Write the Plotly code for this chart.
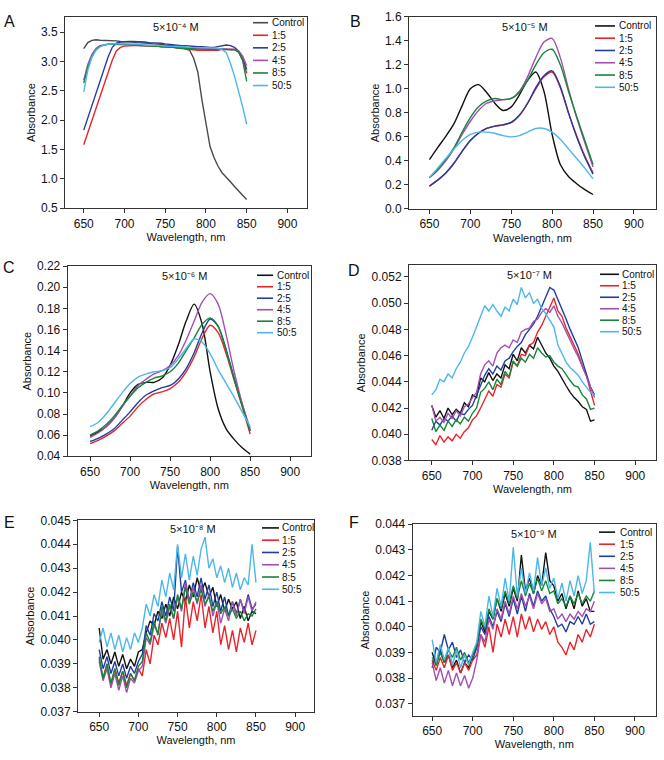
import plotly.graph_objects as go
from plotly.subplots import make_subplots

W, H = 664, 760
FONT = "Liberation Sans, Arial, Helvetica, sans-serif"

SERIES = ["Control", "1:5", "2:5", "4:5", "8:5", "50:5"]
COLORS = ["#111111", "#e8242b", "#1f3f9f", "#a24fb0", "#17853a", "#4db6ea"]

WL_5 = list(range(650, 851, 5))
WL_10 = list(range(650, 851, 10))

# ---- A: 5x10^-4 M (5 nm step) ----
A_CONTROL = [3.22, 3.32, 3.36, 3.37, 3.36, 3.36, 3.35, 3.35, 3.35, 3.34, 3.34, 3.33, 3.33, 3.32, 3.32, 3.31, 3.31,
             3.30, 3.30, 3.29, 3.28, 3.28, 3.27, 3.26, 3.24, 3.22, 3.19, 3.05, 2.82, 2.35, 1.92, 1.55, 1.36, 1.21,
             1.10, 1.03, 0.95, 0.87, 0.79, 0.72, 0.65]
A_1_5 = [1.58, 1.78, 1.99, 2.19, 2.40, 2.60, 2.81, 3.02, 3.18, 3.24, 3.26, 3.27, 3.27, 3.27, 3.27, 3.27, 3.26, 3.26,
         3.26, 3.25, 3.25, 3.24, 3.24, 3.23, 3.22, 3.21, 3.21, 3.20, 3.19, 3.19, 3.19, 3.19, 3.19, 3.19, 3.21, 3.21,
         3.21, 3.20, 3.16, 3.02, 2.80]
A_2_5 = [1.83, 2.04, 2.25, 2.46, 2.67, 2.88, 3.08, 3.24, 3.31, 3.33, 3.34, 3.34, 3.34, 3.34, 3.33, 3.33, 3.32, 3.32,
         3.31, 3.31, 3.30, 3.29, 3.29, 3.28, 3.27, 3.27, 3.26, 3.26, 3.25, 3.25, 3.24, 3.24, 3.24, 3.25, 3.27, 3.28,
         3.27, 3.24, 3.18, 3.08, 2.86]
A_4_5 = [2.68, 2.95, 3.12, 3.22, 3.27, 3.29, 3.30, 3.30, 3.30, 3.30, 3.30, 3.29, 3.29, 3.29, 3.28, 3.28, 3.28, 3.27,
         3.27, 3.26, 3.26, 3.25, 3.25, 3.24, 3.24, 3.23, 3.23, 3.22, 3.22, 3.22, 3.22, 3.22, 3.22, 3.22, 3.22, 3.22,
         3.22, 3.21, 3.18, 3.09, 2.93]
A_8_5 = [2.63, 2.90, 3.08, 3.20, 3.26, 3.28, 3.29, 3.29, 3.29, 3.29, 3.29, 3.28, 3.28, 3.28, 3.27, 3.27, 3.27, 3.26,
         3.26, 3.25, 3.25, 3.24, 3.24, 3.23, 3.23, 3.22, 3.22, 3.22, 3.21, 3.21, 3.21, 3.21, 3.21, 3.21, 3.21, 3.21,
         3.21, 3.20, 3.16, 3.02, 2.66]
A_50_5 = [2.48, 2.85, 3.07, 3.19, 3.25, 3.28, 3.29, 3.30, 3.30, 3.30, 3.30, 3.30, 3.29, 3.29, 3.29, 3.28, 3.28, 3.28,
          3.27, 3.27, 3.26, 3.26, 3.26, 3.25, 3.25, 3.25, 3.24, 3.24, 3.24, 3.24, 3.24, 3.24, 3.23, 3.22, 3.20, 3.15,
          2.97, 2.75, 2.51, 2.23, 1.93]

# ---- B: 5x10^-5 M (10 nm step) ----
B_CONTROL = [0.41, 0.51, 0.605, 0.71, 0.86, 1.00, 1.035, 0.97, 0.88, 0.82, 0.85, 0.95, 1.07, 1.14, 0.98, 0.62, 0.37,
             0.27, 0.21, 0.16, 0.12]
B_1_5 = [0.19, 0.24, 0.30, 0.38, 0.48, 0.57, 0.63, 0.67, 0.69, 0.70, 0.72, 0.78, 0.88, 1.00, 1.10, 1.14, 1.01, 0.80,
         0.61, 0.44, 0.30]
B_2_5 = [0.19, 0.24, 0.30, 0.38, 0.48, 0.57, 0.63, 0.67, 0.69, 0.70, 0.72, 0.78, 0.88, 1.01, 1.11, 1.15, 1.02, 0.80,
         0.60, 0.43, 0.29]
B_4_5 = [0.26, 0.32, 0.40, 0.50, 0.62, 0.73, 0.82, 0.88, 0.90, 0.91, 0.92, 0.98, 1.10, 1.26, 1.39, 1.42, 1.26, 1.00,
         0.76, 0.55, 0.35]
B_8_5 = [0.26, 0.33, 0.41, 0.51, 0.64, 0.76, 0.85, 0.90, 0.92, 0.91, 0.92, 0.97, 1.07, 1.20, 1.30, 1.33, 1.20, 0.98,
         0.77, 0.57, 0.37]
B_50_5 = [0.26, 0.34, 0.42, 0.50, 0.57, 0.62, 0.64, 0.64, 0.63, 0.61, 0.60, 0.61, 0.64, 0.67, 0.67, 0.64, 0.58, 0.50,
          0.42, 0.34, 0.25]

# ---- C: 5x10^-6 M (10 nm step) ----
C_CONTROL = [0.059, 0.063, 0.068, 0.076, 0.087, 0.100, 0.108, 0.110, 0.110, 0.114, 0.126, 0.145, 0.168, 0.184, 0.165,
             0.120, 0.085, 0.066, 0.056, 0.048, 0.042]
C_1_5 = [0.052, 0.055, 0.059, 0.064, 0.071, 0.078, 0.087, 0.094, 0.099, 0.101, 0.104, 0.110, 0.120, 0.134, 0.152,
         0.164, 0.157, 0.137, 0.112, 0.087, 0.061]
C_2_5 = [0.054, 0.057, 0.061, 0.066, 0.074, 0.082, 0.091, 0.098, 0.102, 0.105, 0.107, 0.113, 0.123, 0.138, 0.157,
         0.170, 0.163, 0.141, 0.114, 0.089, 0.064]
C_4_5 = [0.058, 0.062, 0.068, 0.076, 0.087, 0.097, 0.107, 0.113, 0.118, 0.121, 0.126, 0.135, 0.150, 0.168, 0.186,
         0.194, 0.184, 0.155, 0.120, 0.090, 0.066]
C_8_5 = [0.060, 0.064, 0.070, 0.078, 0.088, 0.097, 0.105, 0.110, 0.114, 0.116, 0.120, 0.128, 0.140, 0.152, 0.165,
         0.171, 0.163, 0.140, 0.113, 0.088, 0.064]
C_50_5 = [0.068, 0.072, 0.080, 0.090, 0.100, 0.109, 0.115, 0.118, 0.120, 0.121, 0.124, 0.132, 0.142, 0.151, 0.148,
          0.137, 0.122, 0.109, 0.096, 0.082, 0.068]

# ---- D: 5x10^-7 M (5 nm step) ----
D_CONTROL = [0.0422, 0.0413, 0.0418, 0.0412, 0.0420, 0.0415, 0.0419, 0.0416, 0.0424, 0.0421, 0.0430, 0.0428, 0.0443,
             0.0440, 0.0447, 0.0441, 0.0446, 0.0443, 0.0453, 0.0450, 0.0461, 0.0456, 0.0466, 0.0462, 0.0468, 0.0465,
             0.0474, 0.0468, 0.0462, 0.0458, 0.0452, 0.0448, 0.0442, 0.0437, 0.0432, 0.0428, 0.0425, 0.0421, 0.0419,
             0.0410, 0.0411]
D_1_5 = [0.0396, 0.0392, 0.0399, 0.0394, 0.0398, 0.0395, 0.0400, 0.0397, 0.0402, 0.0405, 0.0411, 0.0414, 0.0420,
         0.0426, 0.0433, 0.0429, 0.0438, 0.0436, 0.0446, 0.0443, 0.0455, 0.0452, 0.0461, 0.0460, 0.0468, 0.0470,
         0.0478, 0.0483, 0.0490, 0.0496, 0.0504, 0.0494, 0.0490, 0.0481, 0.0474, 0.0467, 0.0461, 0.0452, 0.0445,
         0.0433, 0.0422]
D_2_5 = [0.0403, 0.0410, 0.0407, 0.0412, 0.0410, 0.0414, 0.0410, 0.0416, 0.0415, 0.0419, 0.0422, 0.0430, 0.0437,
         0.0445, 0.0450, 0.0446, 0.0452, 0.0449, 0.0456, 0.0458, 0.0463, 0.0467, 0.0470, 0.0476, 0.0480, 0.0484,
         0.0490, 0.0497, 0.0505, 0.0512, 0.0510, 0.0503, 0.0495, 0.0488, 0.0480, 0.0473, 0.0466, 0.0456, 0.0446,
         0.0436, 0.0430]
D_4_5 = [0.0422, 0.0410, 0.0413, 0.0409, 0.0416, 0.0412, 0.0418, 0.0414, 0.0421, 0.0423, 0.0428, 0.0432, 0.0446,
         0.0453, 0.0456, 0.0452, 0.0462, 0.0466, 0.0468, 0.0466, 0.0472, 0.0470, 0.0478, 0.0480, 0.0481, 0.0486,
         0.0488, 0.0493, 0.0496, 0.0493, 0.0498, 0.0490, 0.0485, 0.0478, 0.0472, 0.0465, 0.0459, 0.0452, 0.0444,
         0.0436, 0.0428]
D_8_5 = [0.0412, 0.0402, 0.0407, 0.0403, 0.0410, 0.0406, 0.0411, 0.0408, 0.0413, 0.0410, 0.0416, 0.0420, 0.0432,
         0.0435, 0.0440, 0.0434, 0.0442, 0.0438, 0.0448, 0.0444, 0.0456, 0.0452, 0.0458, 0.0455, 0.0461, 0.0458,
         0.0466, 0.0462, 0.0459, 0.0460, 0.0455, 0.0452, 0.0450, 0.0445, 0.0441, 0.0437, 0.0436, 0.0430, 0.0427,
         0.0419, 0.0420]
D_50_5 = [0.0430, 0.0434, 0.0442, 0.0440, 0.0446, 0.0443, 0.0450, 0.0455, 0.0462, 0.0467, 0.0474, 0.0482, 0.0490,
          0.0498, 0.0494, 0.0499, 0.0494, 0.0490, 0.0497, 0.0494, 0.0503, 0.0499, 0.0512, 0.0504, 0.0508, 0.0500,
          0.0503, 0.0496, 0.0492, 0.0487, 0.0482, 0.0468, 0.0461, 0.0455, 0.0451, 0.0448, 0.0445, 0.0440, 0.0436,
          0.0432, 0.0430]

# ---- E: 5x10^-8 M (5 nm step) ----
E_CONTROL = [0.0405, 0.0392, 0.0396, 0.0390, 0.0395, 0.0389, 0.0394, 0.0388, 0.0392, 0.0389, 0.0395, 0.0396, 0.0403,
             0.0408, 0.0406, 0.0412, 0.0409, 0.0415, 0.0410, 0.0418, 0.0413, 0.0420, 0.0416, 0.0423, 0.0418, 0.0426,
             0.0420, 0.0424, 0.0418, 0.0422, 0.0414, 0.0419, 0.0412, 0.0417, 0.0413, 0.0416, 0.0409, 0.0414, 0.0408,
             0.0412, 0.0411]
E_1_5 = [0.0392, 0.0384, 0.0390, 0.0381, 0.0388, 0.0382, 0.0387, 0.0381, 0.0386, 0.0383, 0.0388, 0.0385, 0.0396,
         0.0390, 0.0402, 0.0398, 0.0407, 0.0401, 0.0409, 0.0400, 0.0412, 0.0397, 0.0418, 0.0405, 0.0416, 0.0408,
         0.0419, 0.0405, 0.0414, 0.0403, 0.0412, 0.0398, 0.0406, 0.0396, 0.0404, 0.0395, 0.0405, 0.0399, 0.0407,
         0.0398, 0.0404]
E_2_5 = [0.0396, 0.0388, 0.0393, 0.0386, 0.0391, 0.0385, 0.0390, 0.0384, 0.0389, 0.0386, 0.0391, 0.0394, 0.0406,
         0.0402, 0.0411, 0.0408, 0.0416, 0.0410, 0.0418, 0.0412, 0.0439, 0.0420, 0.0425, 0.0416, 0.0424, 0.0418,
         0.0426, 0.0417, 0.0423, 0.0414, 0.0420, 0.0412, 0.0418, 0.0410, 0.0416, 0.0411, 0.0417, 0.0412, 0.0419,
         0.0413, 0.0415]
E_4_5 = [0.0391, 0.0383, 0.0388, 0.0380, 0.0386, 0.0379, 0.0385, 0.0378, 0.0384, 0.0382, 0.0387, 0.0389, 0.0401,
         0.0398, 0.0406, 0.0403, 0.0412, 0.0407, 0.0414, 0.0409, 0.0418, 0.0412, 0.0424, 0.0416, 0.0422, 0.0415,
         0.0423, 0.0414, 0.0419, 0.0410, 0.0416, 0.0407, 0.0413, 0.0408, 0.0416, 0.0410, 0.0417, 0.0411, 0.0418,
         0.0412, 0.0416]
E_8_5 = [0.0393, 0.0384, 0.0390, 0.0382, 0.0388, 0.0381, 0.0387, 0.0380, 0.0386, 0.0383, 0.0389, 0.0391, 0.0403,
         0.0399, 0.0408, 0.0402, 0.0414, 0.0408, 0.0415, 0.0409, 0.0419, 0.0413, 0.0422, 0.0415, 0.0420, 0.0416,
         0.0421, 0.0415, 0.0418, 0.0412, 0.0416, 0.0411, 0.0414, 0.0410, 0.0413, 0.0409, 0.0412, 0.0408, 0.0411,
         0.0410, 0.0413]
E_50_5 = [0.0399, 0.0405, 0.0397, 0.0403, 0.0396, 0.0402, 0.0395, 0.0401, 0.0396, 0.0403, 0.0399, 0.0405, 0.0415,
          0.0410, 0.0419, 0.0414, 0.0425, 0.0418, 0.0428, 0.0421, 0.0440, 0.0426, 0.0436, 0.0425, 0.0435, 0.0427,
          0.0438, 0.0443, 0.0430, 0.0434, 0.0426, 0.0431, 0.0424, 0.0430, 0.0422, 0.0428, 0.0421, 0.0426, 0.0423,
          0.0440, 0.0424]

# ---- F: 5x10^-9 M (5 nm step) ----
F_CONTROL = [0.0390, 0.0385, 0.0391, 0.0386, 0.0389, 0.0384, 0.0387, 0.0382, 0.0386, 0.0384, 0.0389, 0.0392, 0.0402,
             0.0398, 0.0406, 0.0403, 0.0411, 0.0406, 0.0413, 0.0408, 0.0415, 0.0410, 0.0428, 0.0414, 0.0419, 0.0413,
             0.0420, 0.0416, 0.0429, 0.0418, 0.0416, 0.0410, 0.0413, 0.0407, 0.0412, 0.0407, 0.0414, 0.0408, 0.0411,
             0.0406, 0.0406]
F_1_5 = [0.0387, 0.0383, 0.0388, 0.0384, 0.0389, 0.0383, 0.0386, 0.0382, 0.0386, 0.0383, 0.0387, 0.0389, 0.0397,
         0.0392, 0.0400, 0.0390, 0.0401, 0.0396, 0.0403, 0.0397, 0.0404, 0.0396, 0.0405, 0.0399, 0.0404, 0.0398,
         0.0403, 0.0399, 0.0402, 0.0397, 0.0400, 0.0394, 0.0392, 0.0389, 0.0394, 0.0391, 0.0397, 0.0394, 0.0399,
         0.0396, 0.0401]
F_2_5 = [0.0384, 0.0392, 0.0390, 0.0397, 0.0391, 0.0394, 0.0388, 0.0391, 0.0386, 0.0389, 0.0387, 0.0392, 0.0400,
         0.0397, 0.0404, 0.0400, 0.0406, 0.0402, 0.0409, 0.0404, 0.0411, 0.0405, 0.0412, 0.0406, 0.0413, 0.0408,
         0.0414, 0.0410, 0.0412, 0.0407, 0.0404, 0.0400, 0.0401, 0.0398, 0.0402, 0.0401, 0.0404, 0.0401, 0.0405,
         0.0401, 0.0402]
F_4_5 = [0.0386, 0.0379, 0.0384, 0.0378, 0.0383, 0.0377, 0.0382, 0.0377, 0.0381, 0.0376, 0.0380, 0.0387, 0.0397,
         0.0394, 0.0403, 0.0399, 0.0407, 0.0403, 0.0410, 0.0405, 0.0412, 0.0407, 0.0413, 0.0408, 0.0412, 0.0407,
         0.0413, 0.0409, 0.0411, 0.0406, 0.0407, 0.0403, 0.0405, 0.0402, 0.0405, 0.0403, 0.0406, 0.0404, 0.0407,
         0.0406, 0.0410]
F_8_5 = [0.0388, 0.0385, 0.0390, 0.0386, 0.0391, 0.0388, 0.0392, 0.0387, 0.0390, 0.0386, 0.0389, 0.0393, 0.0403,
         0.0399, 0.0407, 0.0403, 0.0411, 0.0407, 0.0414, 0.0409, 0.0416, 0.0411, 0.0418, 0.0412, 0.0417, 0.0413,
         0.0419, 0.0414, 0.0418, 0.0413, 0.0414, 0.0409, 0.0411, 0.0408, 0.0412, 0.0409, 0.0413, 0.0409, 0.0412,
         0.0410, 0.0414]
F_50_5 = [0.0395, 0.0386, 0.0393, 0.0387, 0.0392, 0.0385, 0.0391, 0.0384, 0.0389, 0.0385, 0.0390, 0.0394, 0.0406,
          0.0400, 0.0412, 0.0404, 0.0415, 0.0408, 0.0419, 0.0410, 0.0431, 0.0412, 0.0423, 0.0413, 0.0421, 0.0414,
          0.0427, 0.0416, 0.0423, 0.0415, 0.0419, 0.0411, 0.0417, 0.0410, 0.0418, 0.0412, 0.0420, 0.0413, 0.0418,
          0.0433, 0.0413]

PANELS = [
    dict(letter="A", conc="5×10⁻⁴ M", wl=WL_5, shape="linear",
         ys=[A_CONTROL, A_1_5, A_2_5, A_4_5, A_8_5, A_50_5]),
    dict(letter="B", conc="5×10⁻⁵ M", wl=WL_10, shape="spline",
         ys=[B_CONTROL, B_1_5, B_2_5, B_4_5, B_8_5, B_50_5]),
    dict(letter="C", conc="5×10⁻⁶ M", wl=WL_10, shape="spline",
         ys=[C_CONTROL, C_1_5, C_2_5, C_4_5, C_8_5, C_50_5]),
    dict(letter="D", conc="5×10⁻⁷ M", wl=WL_5, shape="linear",
         ys=[D_CONTROL, D_1_5, D_2_5, D_4_5, D_8_5, D_50_5]),
    dict(letter="E", conc="5×10⁻⁸ M", wl=WL_5, shape="linear",
         ys=[E_CONTROL, E_1_5, E_2_5, E_4_5, E_8_5, E_50_5]),
    dict(letter="F", conc="5×10⁻⁹ M", wl=WL_5, shape="linear",
         ys=[F_CONTROL, F_1_5, F_2_5, F_4_5, F_8_5, F_50_5]),
]

# layout per panel, in pixels: plot box (left, top, right, bottom), axis ranges,
# legend (line x0, line x1, text x, first row y, row step), letter and label positions
STYLE = [
    dict(box=(65, 10, 307, 205), xr=[627, 924], yr=[0.5, 3.76], dt=0.5, fmt=".1f",
         leg=(253, 268, 270, 16, 12.8), let=(9, 15), lab=(176, 20)),
    dict(box=(409, 10, 656, 205.7), xr=[625, 927], yr=[0, 1.6], dt=0.2, fmt=".1f",
         leg=(595, 615, 617, 19.3, 12.5), let=(355, 15), lab=(525, 20)),
    dict(box=(67.7, 264, 311, 457.7), xr=[622, 926], yr=[0.04, 0.22], dt=0.02, fmt=".2f",
         leg=(257, 273, 275, 273.3, 11.7), let=(9, 265), lab=(185, 274)),
    dict(box=(409, 263, 656, 462), xr=[622, 925.5], yr=[0.038, 0.0529], dt=0.002, fmt=".3f",
         leg=(600, 619, 620, 272.3, 11.7), let=(354, 268), lab=(529, 273)),
    dict(box=(78, 523, 314, 718), xr=[623, 924], yr=[0.037, 0.045], dt=0.001, fmt=".3f",
         leg=(262, 279, 280, 530.7, 12.5), let=(9, 525), lab=(193, 532)),
    dict(box=(412.7, 527, 656, 722), xr=[626, 926], yr=[0.03653, 0.044], dt=0.001, fmt=".3f",
         leg=(599, 615, 618, 535, 12.3), let=(354, 525), lab=(534, 537)),
]


def px(x):
    return x / W


def py(y):
    return 1 - y / H


fig = make_subplots(rows=3, cols=2)
shapes, annotations = [], []

for i, (p, s) in enumerate(zip(PANELS, STYLE)):
    row, col = i // 2 + 1, i % 2 + 1
    colors = list(COLORS)
    if p["letter"] == "A":
        colors[0] = "#4a4a4a"
    for name, y, c in zip(SERIES, p["ys"], colors):
        fig.add_trace(go.Scatter(x=p["wl"], y=y, mode="lines", name=name, showlegend=False,
                                 line=dict(color=c, width=1.4, shape=p["shape"], smoothing=0.8)),
                      row=row, col=col)

    l, t, r, b = s["box"]
    fig.update_xaxes(domain=[px(l), px(r)], range=s["xr"], tickvals=[650, 700, 750, 800, 850, 900],
                     title=dict(text="Wavelength, nm", font=dict(size=11), standoff=3),
                     row=row, col=col)
    fig.update_yaxes(domain=[py(b), py(t)], range=s["yr"], dtick=s["dt"], tick0=0, tickformat=s["fmt"],
                     title=dict(text="Absorbance", font=dict(size=11), standoff=3),
                     row=row, col=col)

    # hand-drawn legend
    x0, x1, xt, y0, dy = s["leg"]
    for k, (name, c) in enumerate(zip(SERIES, colors)):
        yy = y0 + k * dy
        shapes.append(dict(type="line", xref="paper", yref="paper", x0=px(x0), x1=px(x1),
                           y0=py(yy), y1=py(yy), line=dict(color=c, width=1.6)))
        annotations.append(dict(text=name, xref="paper", yref="paper", x=px(xt), y=py(yy),
                                xanchor="left", yanchor="middle", showarrow=False,
                                font=dict(size=10, color="#111")))

    annotations.append(dict(text=p["conc"], xref="paper", yref="paper", x=px(s["lab"][0]), y=py(s["lab"][1]),
                            xanchor="center", yanchor="middle", showarrow=False, font=dict(size=11, color="#111")))
    annotations.append(dict(text=p["letter"], xref="paper", yref="paper", x=px(s["let"][0]), y=py(s["let"][1]),
                            xanchor="center", yanchor="middle", showarrow=False, font=dict(size=16, color="#111")))

fig.update_xaxes(showline=True, mirror=True, linecolor="#333", linewidth=1, ticks="outside", ticklen=4,
                 tickcolor="#333", showgrid=False, zeroline=False, tickfont=dict(size=12))
fig.update_yaxes(showline=True, mirror=True, linecolor="#333", linewidth=1, ticks="outside", ticklen=4,
                 tickcolor="#333", showgrid=False, zeroline=False, tickfont=dict(size=12))

fig.update_layout(
    width=W, height=H,
    margin=dict(l=0, r=0, t=0, b=0),
    paper_bgcolor="white", plot_bgcolor="white",
    font=dict(family=FONT, color="#111"),
    shapes=shapes, annotations=annotations,
    showlegend=False,
)

# the page's default body margin would push the figure past the window
fig.write_html("out.html", config={"displayModeBar": False},
               post_script="document.body.style.margin='0';document.body.style.overflow='hidden';")
